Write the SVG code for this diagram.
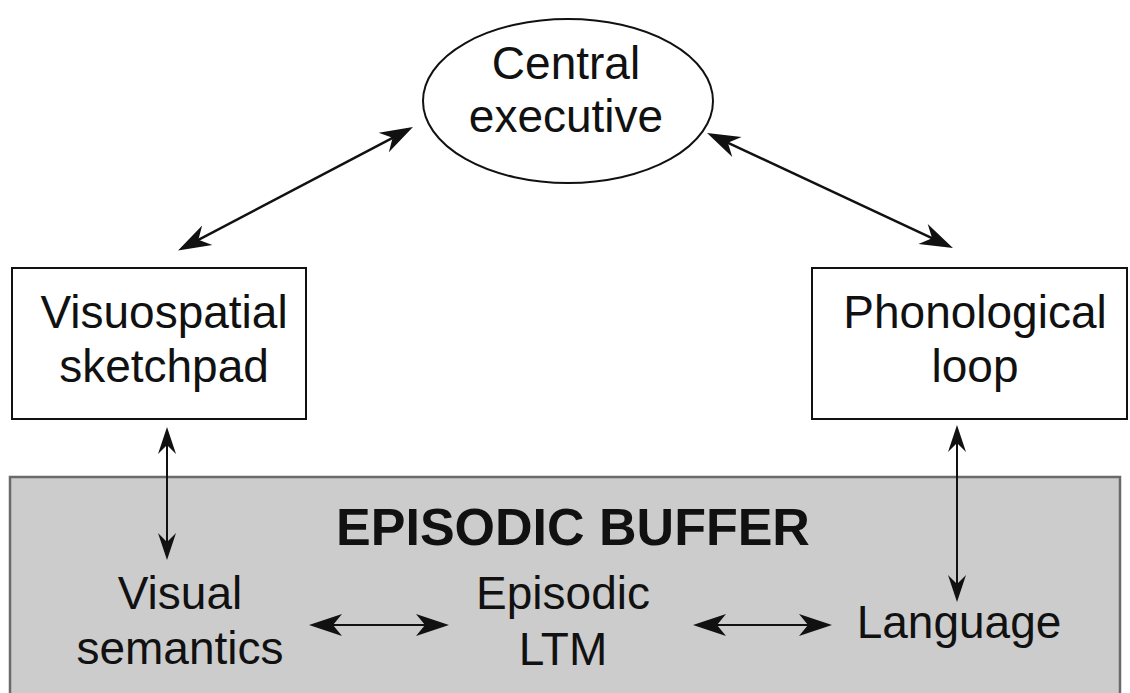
<svg xmlns="http://www.w3.org/2000/svg" width="1130" height="693" viewBox="0 0 1130 693">
  <style>
    text { font-family: "Liberation Sans", Arial, sans-serif; font-size: 46px; fill: #111; text-anchor: middle; }
    .title { font-weight: bold; font-size: 52px; }
    .box { fill: #fff; stroke: #111; stroke-width: 2; }
    .conn { fill: none; stroke: #111; }
  </style>
  <defs>
    <marker id="big" markerUnits="userSpaceOnUse" orient="auto-start-reverse" viewBox="-40 -15 40 30" markerWidth="40" markerHeight="30" refX="-9" refY="0">
      <path d="M0,0 L-33,-11 L-23,0 L-33,11 Z" fill="#111"/>
    </marker>
    <marker id="mid" markerUnits="userSpaceOnUse" orient="auto-start-reverse" viewBox="-40 -15 40 30" markerWidth="40" markerHeight="30" refX="-9" refY="0">
      <path d="M0,0 L-33,-11 L-24,0 L-33,11 Z" fill="#111"/>
    </marker>
    <marker id="small" markerUnits="userSpaceOnUse" orient="auto-start-reverse" viewBox="-40 -15 40 30" markerWidth="40" markerHeight="30" refX="-9" refY="0">
      <path d="M0,0 L-27,-9 L-18,0 L-27,9 Z" fill="#111"/>
    </marker>
  </defs>

  <g id="episodic-buffer">
    <rect x="10" y="477" width="1110" height="240" fill="#cccccc" stroke="#6a6a6a" stroke-width="2.5"/>
    <text class="title" x="573" y="545">EPISODIC BUFFER</text>
  </g>

  <g id="central-executive">
    <ellipse cx="568" cy="101" rx="145" ry="82" fill="#fff" stroke="#111" stroke-width="2"/>
    <text x="566" y="79">Central</text>
    <text x="566" y="132">executive</text>
  </g>

  <g id="visuospatial-sketchpad">
    <rect class="box" x="12" y="268" width="294" height="151"/>
    <text x="164" y="328">Visuospatial</text>
    <text x="164" y="382">sketchpad</text>
  </g>

  <g id="phonological-loop">
    <rect class="box" x="812" y="268" width="315" height="151"/>
    <text x="975" y="328">Phonological</text>
    <text x="975" y="382">loop</text>
  </g>

  <g id="visual-semantics">
    <text x="180" y="609">Visual</text>
    <text x="180" y="664">semantics</text>
  </g>

  <g id="episodic-ltm">
    <text x="563" y="609">Episodic</text>
    <text x="563" y="665">LTM</text>
  </g>

  <g id="language">
    <text x="959" y="638">Language</text>
  </g>

  <g id="connectors">
    <line class="conn" stroke-width="2.5" x1="186" y1="246.3" x2="405" y2="131.3" marker-start="url(#big)" marker-end="url(#big)"/>
    <line class="conn" stroke-width="2.5" x1="715.2" y1="136.8" x2="944.8" y2="244.2" marker-start="url(#big)" marker-end="url(#big)"/>
    <line class="conn" stroke-width="2" x1="167" y1="436" x2="167" y2="551" marker-start="url(#small)" marker-end="url(#small)"/>
    <line class="conn" stroke-width="2" x1="957" y1="434" x2="957" y2="593" marker-start="url(#small)" marker-end="url(#small)"/>
    <line class="conn" stroke-width="2" x1="318" y1="625" x2="440" y2="625" marker-start="url(#mid)" marker-end="url(#mid)"/>
    <line class="conn" stroke-width="2" x1="702" y1="625" x2="823" y2="625" marker-start="url(#mid)" marker-end="url(#mid)"/>
  </g>
</svg>
